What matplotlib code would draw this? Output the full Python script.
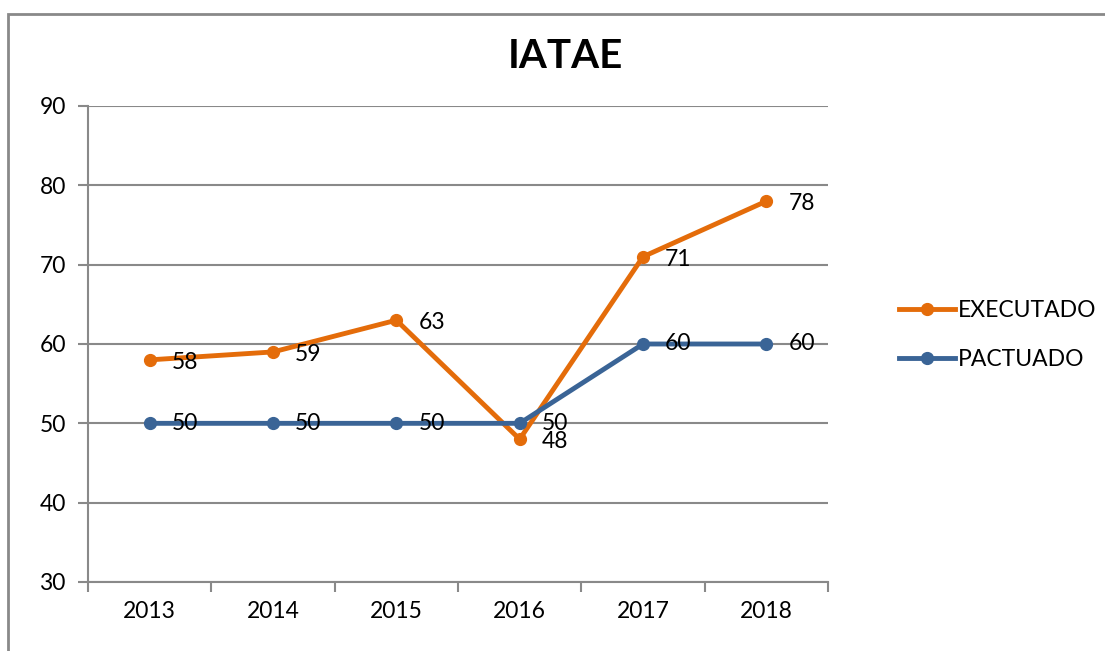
import matplotlib
matplotlib.use("Agg")
import matplotlib.pyplot as plt
from matplotlib.lines import Line2D
from matplotlib.patches import Rectangle

years = ["2013", "2014", "2015", "2016", "2017", "2018"]
executado = [58, 59, 63, 48, 71, 78]
pactuado = [50, 50, 50, 50, 60, 60]
yticks = [30, 40, 50, 60, 70, 80, 90]

ORANGE = "#E46C0A"
BLUE = "#3A6496"
GRID = "#898989"
FS = 16.5

plt.rcParams['font.family'] = ['Lato', 'DejaVu Sans']

fig = plt.figure(figsize=(11.05, 6.51), dpi=100)
W, H = 1105, 651
fig.patches.append(Rectangle((8 / W, -0.1), 1.2, 1 - 14 / H + 0.1, transform=fig.transFigure,
                             fill=False, edgecolor=GRID, linewidth=2))

ax = fig.add_axes([88 / W, 1 - 582 / H, (828 - 88) / W, (582 - 106) / H])
x = list(range(len(years)))
ax.plot(x, executado, color=ORANGE, lw=3.5, marker='o', ms=8.5, label="EXECUTADO", zorder=3)
ax.plot(x, pactuado, color=BLUE, lw=3.5, marker='o', ms=8.5, label="PACTUADO", zorder=4)

for xi, v in zip(x, executado):
    ax.annotate(str(v), (xi, v), xytext=(16, -2), textcoords='offset points',
                ha='left', va='center', fontsize=FS, zorder=5)
for xi, v in zip(x, pactuado):
    ax.annotate(str(v), (xi, v), xytext=(16, 0), textcoords='offset points',
                ha='left', va='center', fontsize=FS, zorder=5)

ax.set_xlim(-0.5, len(years) - 0.5)
ax.set_ylim(30, 90)
ax.set_yticks(yticks)
ax.set_yticklabels([str(t) for t in yticks], fontsize=FS)
ax.set_xticks(x)
ax.set_xticklabels(years, fontsize=FS)
ax.set_xticks([i - 0.5 for i in range(len(years) + 1)], minor=True)
ax.tick_params(axis='x', which='major', length=0, pad=14)
ax.tick_params(axis='x', which='minor', length=7, width=1.5, color=GRID)
ax.tick_params(axis='y', length=7, width=1.5, color=GRID, pad=9)
ax.yaxis.grid(True, color=GRID, lw=1.5)
ax.set_axisbelow(True)
for s in ['top', 'right']:
    ax.spines[s].set_visible(False)
for s in ['left', 'bottom']:
    ax.spines[s].set_color(GRID)
    ax.spines[s].set_linewidth(1.5)

fig.text(565 / W, 1 - 56 / H, "IATAE", ha='center', va='center', fontsize=29, fontweight='bold')

handles = [Line2D([], [], color=ORANGE, lw=3.5, marker='o', ms=8.5),
           Line2D([], [], color=BLUE, lw=3.5, marker='o', ms=8.5)]
fig.legend(handles, ["EXECUTADO", "PACTUADO"], loc='center left',
           bbox_to_anchor=(899 / W, 1 - 335 / H), frameon=False, fontsize=FS,
           handlelength=2.45, handletextpad=0.1, labelspacing=1.2, borderpad=0,
           borderaxespad=0)

fig.savefig("out.png", dpi=100)
